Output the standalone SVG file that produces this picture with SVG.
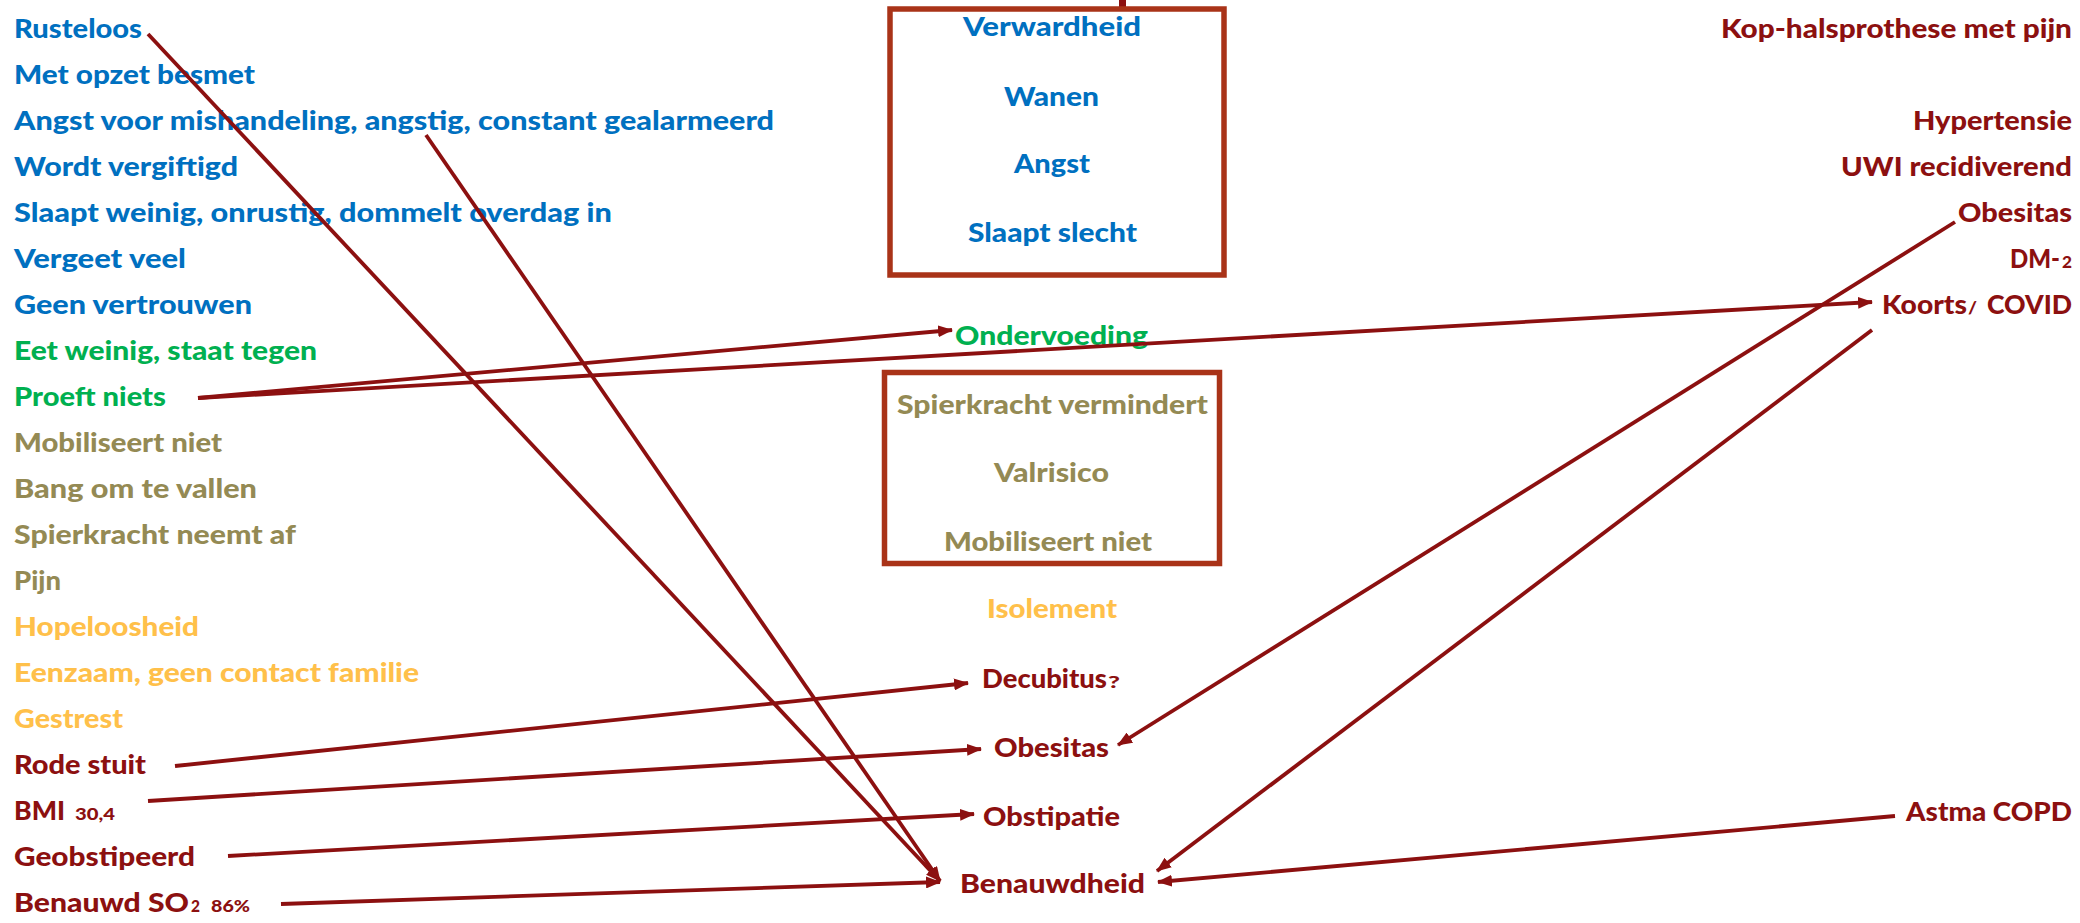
<svg xmlns="http://www.w3.org/2000/svg" width="2080" height="923" viewBox="0 0 2080 923">
<style>
text{font-family:"Lato","Liberation Sans",sans-serif;font-weight:900;font-size:26px}
.b{fill:#0070C0}.g{fill:#00B050}.o{fill:#948A54}.y{fill:#FFC04A}.r{fill:#8C1010}
.s{font-size:17px}
.box{fill:none;stroke:#A93318;stroke-width:5.5}
.c{fill:none;stroke:#8C1010;stroke-width:3.8;marker-end:url(#ah)}
</style>
<defs>
<marker id="ah" markerUnits="userSpaceOnUse" markerWidth="16" markerHeight="12" refX="14" refY="6" orient="auto">
<path d="M0,0 L15,6 L0,12 z" fill="#8C1010"/>
</marker>
</defs>
<rect x="0" y="0" width="2080" height="923" fill="#fff"/>
<rect x="1119" y="0" width="7" height="7" fill="#8C1010"/>
<g id="left">
<text id="n0" class="b" x="14" y="38" textLength="128" lengthAdjust="spacingAndGlyphs">Rusteloos</text>
<text id="n1" class="b" x="14" y="84" textLength="241" lengthAdjust="spacingAndGlyphs">Met opzet besmet</text>
<text id="n2" class="b" x="14" y="130" textLength="760" lengthAdjust="spacingAndGlyphs">Angst voor mishandeling, angstig, constant gealarmeerd</text>
<text id="n3" class="b" x="14" y="176" textLength="224" lengthAdjust="spacingAndGlyphs">Wordt vergiftigd</text>
<text id="n4" class="b" x="14" y="222" textLength="598" lengthAdjust="spacingAndGlyphs">Slaapt weinig, onrustig, dommelt overdag in</text>
<text id="n5" class="b" x="14" y="268" textLength="172" lengthAdjust="spacingAndGlyphs">Vergeet veel</text>
<text id="n6" class="b" x="14" y="314" textLength="238" lengthAdjust="spacingAndGlyphs">Geen vertrouwen</text>
<text id="n7" class="g" x="14" y="360" textLength="303" lengthAdjust="spacingAndGlyphs">Eet weinig, staat tegen</text>
<text id="n8" class="g" x="14" y="406" textLength="152" lengthAdjust="spacingAndGlyphs">Proeft niets</text>
<text id="n9" class="o" x="14" y="452" textLength="208" lengthAdjust="spacingAndGlyphs">Mobiliseert niet</text>
<text id="n10" class="o" x="14" y="498" textLength="243" lengthAdjust="spacingAndGlyphs">Bang om te vallen</text>
<text id="n11" class="o" x="14" y="544" textLength="282" lengthAdjust="spacingAndGlyphs">Spierkracht neemt af</text>
<text id="n12" class="o" x="14" y="590" textLength="47" lengthAdjust="spacingAndGlyphs">Pijn</text>
<text id="n13" class="y" x="14" y="636" textLength="185" lengthAdjust="spacingAndGlyphs">Hopeloosheid</text>
<text id="n14" class="y" x="14" y="682" textLength="405" lengthAdjust="spacingAndGlyphs">Eenzaam, geen contact familie</text>
<text id="n15" class="y" x="14" y="728" textLength="109" lengthAdjust="spacingAndGlyphs">Gestrest</text>
<text id="n16" class="r" x="14" y="774" textLength="132" lengthAdjust="spacingAndGlyphs">Rode stuit</text>
<g id="n17"><text class="r" x="14" y="820" textLength="51" lengthAdjust="spacingAndGlyphs">BMI</text><text class="r s" x="75" y="820" textLength="40" lengthAdjust="spacingAndGlyphs">30,4</text></g>
<text id="n18" class="r" x="14" y="866" textLength="181" lengthAdjust="spacingAndGlyphs">Geobstipeerd</text>
<g id="n19"><text class="r" x="14" y="912" textLength="175" lengthAdjust="spacingAndGlyphs">Benauwd SO</text><text class="r s" x="191" y="912" textLength="9" lengthAdjust="spacingAndGlyphs">2</text><text class="r s" x="211" y="912" textLength="39" lengthAdjust="spacingAndGlyphs">86%</text></g>
</g>
<g id="box1">
<rect class="box" x="890" y="9" width="334" height="266"/>
<text class="b" x="963" y="36" textLength="178" lengthAdjust="spacingAndGlyphs">Verwardheid</text>
<text class="b" x="1004" y="106" textLength="95" lengthAdjust="spacingAndGlyphs">Wanen</text>
<text class="b" x="1014" y="173" textLength="76" lengthAdjust="spacingAndGlyphs">Angst</text>
<text class="b" x="968" y="242" textLength="169" lengthAdjust="spacingAndGlyphs">Slaapt slecht</text>
</g>
<g id="ondervoeding"><text class="g" x="955" y="345" textLength="193" lengthAdjust="spacingAndGlyphs">Ondervoeding</text></g>
<g id="box2">
<rect class="box" x="884.5" y="372.5" width="335" height="191"/>
<text class="o" x="897" y="414" textLength="311" lengthAdjust="spacingAndGlyphs">Spierkracht vermindert</text>
<text class="o" x="994" y="482" textLength="115" lengthAdjust="spacingAndGlyphs">Valrisico</text>
<text class="o" x="944" y="551" textLength="208" lengthAdjust="spacingAndGlyphs">Mobiliseert niet</text>
</g>
<g id="isolement"><text class="y" x="987" y="618" textLength="130" lengthAdjust="spacingAndGlyphs">Isolement</text></g>
<g id="decubitus"><text class="r" x="982" y="688" textLength="125" lengthAdjust="spacingAndGlyphs">Decubitus</text><text class="r s" x="1108" y="688" textLength="12" lengthAdjust="spacingAndGlyphs">?</text></g>
<g id="obesitas-mid"><text class="r" x="994" y="757" textLength="115" lengthAdjust="spacingAndGlyphs">Obesitas</text></g>
<g id="obstipatie"><text class="r" x="983" y="826" textLength="137" lengthAdjust="spacingAndGlyphs">Obstipatie</text></g>
<g id="benauwdheid"><text class="r" x="960" y="893" textLength="185" lengthAdjust="spacingAndGlyphs">Benauwdheid</text></g>
<g id="right">
<text id="r0" class="r" x="1721" y="38" textLength="351" lengthAdjust="spacingAndGlyphs">Kop-halsprothese met pijn</text>
<text id="r1" class="r" x="1913" y="130" textLength="159" lengthAdjust="spacingAndGlyphs">Hypertensie</text>
<text id="r2" class="r" x="1841" y="176" textLength="231" lengthAdjust="spacingAndGlyphs">UWI recidiverend</text>
<text id="r3" class="r" x="1958" y="222" textLength="114" lengthAdjust="spacingAndGlyphs">Obesitas</text>
<g id="r4"><text class="r" x="2010" y="268" textLength="50" lengthAdjust="spacingAndGlyphs">DM-</text><text class="r s" x="2062" y="268" textLength="10" lengthAdjust="spacingAndGlyphs">2</text></g>
<g id="r5"><text class="r" x="1882" y="314" textLength="85" lengthAdjust="spacingAndGlyphs">Koorts</text><text class="r s" x="1968" y="314" textLength="9" lengthAdjust="spacingAndGlyphs">/</text><text class="r" x="1987" y="314" textLength="85" lengthAdjust="spacingAndGlyphs">COVID</text></g>
<text id="r6" class="r" x="1906" y="821" textLength="166" lengthAdjust="spacingAndGlyphs">Astma COPD</text>
</g>
<g id="connectors">
<path class="c" d="M148,34 L940,881"/>
<path class="c" d="M426,135 L940,881"/>
<path class="c" d="M198,398 L952,330"/>
<path class="c" d="M198,398 L1872,302"/>
<path class="c" d="M1955,222 L1118,745"/>
<path class="c" d="M1872,330 L1157,871"/>
<path class="c" d="M1895,816 L1158,882"/>
<path class="c" d="M175,766 L968,683"/>
<path class="c" d="M148,801 L981,749"/>
<path class="c" d="M228,856 L974,814"/>
<path class="c" d="M281,904 L940,882"/>
</g>
</svg>
